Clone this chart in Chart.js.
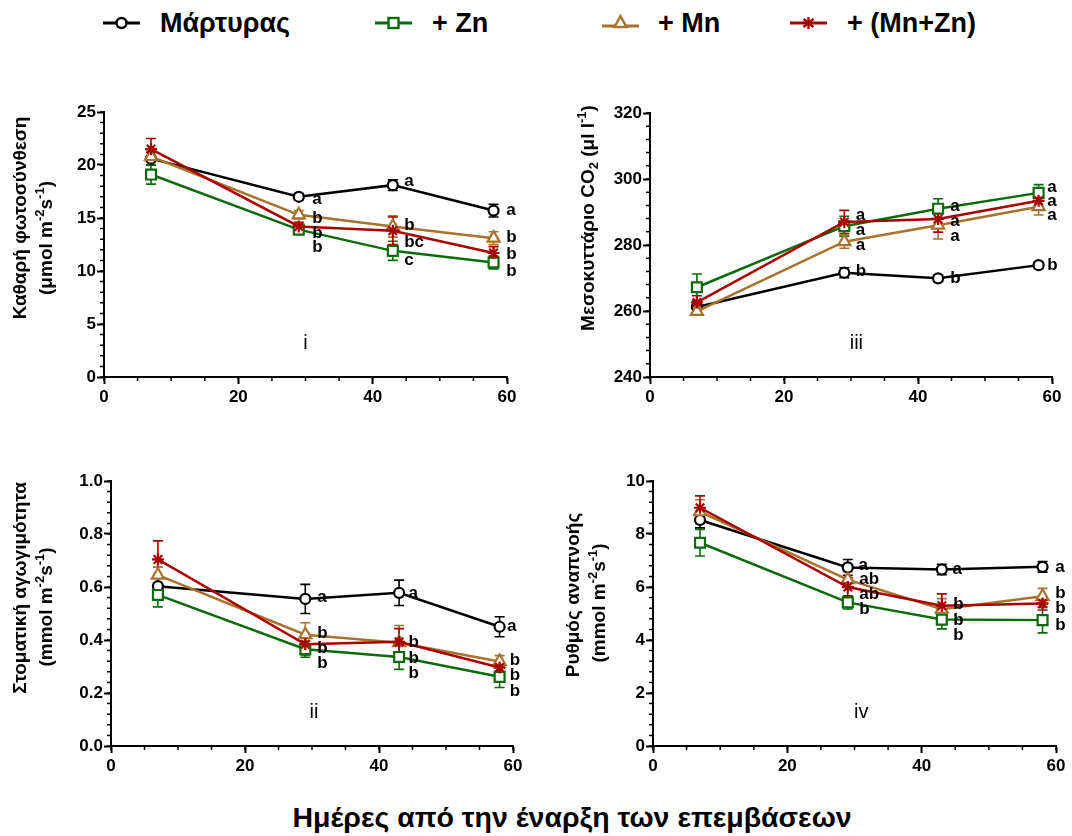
<!DOCTYPE html>
<html>
<head>
<meta charset="utf-8">
<script src="https://cdn.jsdelivr.net/npm/chart.js@4.4.0/dist/chart.umd.min.js"></script>
<style>
  body { margin: 0; background: #fff; width: 1072px; height: 836px; position: relative; overflow: hidden;
         font-family: "Liberation Sans", Arial, sans-serif; }
  canvas { position: absolute; }
  .leg { position: absolute; top: 8px; height: 30px; line-height: 30px; font-weight: bold; font-size: 27px; color: #000; white-space: nowrap; }
  .sym { position: absolute; top: 12px; }
  .xtitle { position: absolute; left: 72px; width: 1000px; top: 801px; text-align: center; font-weight: bold; font-size: 28.5px; line-height: 32px; }
</style>
</head>
<body>
<canvas id="c1" width="560" height="330" style="left:0;top:90px"></canvas>
<canvas id="c3" width="512" height="330" style="left:560px;top:90px"></canvas>
<canvas id="c2" width="560" height="330" style="left:0;top:460px"></canvas>
<canvas id="c4" width="512" height="330" style="left:560px;top:460px"></canvas>

<svg class="sym" style="left:103px" width="37" height="22"><line x1="0" y1="11" x2="37" y2="11" stroke="#000" stroke-width="2.8"/><circle cx="18.5" cy="11" r="5" fill="#fff" stroke="#000" stroke-width="2.4"/></svg>
<div class="leg" style="left:160px">Μάρτυρας</div>
<svg class="sym" style="left:375px" width="37" height="22"><line x1="0" y1="11" x2="37" y2="11" stroke="#0b6b0b" stroke-width="2.8"/><rect x="13.5" y="6" width="10" height="10" fill="#fff" stroke="#0b6b0b" stroke-width="2.4"/></svg>
<div class="leg" style="left:432px">+ Zn</div>
<svg class="sym" style="left:602px" width="37" height="22"><line x1="0" y1="14" x2="37" y2="14" stroke="#a8722c" stroke-width="2.8"/><polygon points="18.5,4 24.5,15 12.5,15" fill="#fff" stroke="#a8722c" stroke-width="2.4"/></svg>
<div class="leg" style="left:658px">+ Mn</div>
<svg class="sym" style="left:790px" width="37" height="22"><line x1="0" y1="11" x2="37" y2="11" stroke="#a80000" stroke-width="2.8"/><g stroke="#a80000" stroke-width="2.4"><line x1="18.5" y1="5" x2="18.5" y2="17"/><line x1="13.5" y1="7" x2="23.5" y2="15"/><line x1="23.5" y1="7" x2="13.5" y2="15"/></g></svg>
<div class="leg" style="left:847px">+ (Mn+Zn)</div>

<div class="xtitle">Ημέρες από την έναρξη των επεμβάσεων</div>

<script>
// ---- data ----
const days = [7, 29, 43, 58];
const seriesNames = ['Μάρτυρας', '+ Zn', '+ Mn', '+ (Mn+Zn)'];

// i - net photosynthesis
const photoCtrl = [20.6, 17.0, 18.1, 15.7];
const photoCtrlErr = [0.6, 0.3, 0.5, 0.6];
const photoZn = [19.1, 13.9, 11.9, 10.8];
const photoZnErr = [0.9, 0.3, 0.9, 0.6];
const photoMn = [20.8, 15.3, 14.2, 13.1];
const photoMnErr = [0.5, 0.4, 1.0, 0.6];
const photoMnZn = [21.5, 14.2, 13.8, 11.7];
const photoMnZnErr = [1.0, 0.4, 1.3, 0.6];
const photoLetters = [
  [31, 16.8, 'a'], [31, 15.0, 'b'], [31, 13.6, 'b'], [31, 12.2, 'b'],
  [44.7, 18.5, 'a'], [44.7, 14.3, 'b'], [44.7, 12.7, 'bc'], [44.7, 11.0, 'c'],
  [59.9, 15.7, 'a'], [59.9, 13.2, 'b'], [59.9, 11.6, 'b'], [59.9, 10.0, 'b']
];

// iii - intercellular CO2
const co2Ctrl = [261.2, 271.6, 269.9, 273.9];
const co2CtrlErr = [1.5, 1.5, 1.0, 1.0];
const co2Zn = [267.2, 285.7, 291.0, 295.8];
const co2ZnErr = [4.0, 3.0, 3.0, 2.5];
const co2Mn = [259.9, 281.0, 286.0, 291.6];
const co2MnErr = [1.0, 2.0, 4.2, 2.5];
const co2MnZn = [262.6, 287.0, 287.9, 293.4];
const co2MnZnErr = [2.0, 3.5, 4.0, 1.5];
const co2Letters = [
  [30.7, 288.9, 'a'], [30.7, 284.5, 'a'], [30.7, 279.8, 'a'], [30.7, 271.9, 'b'],
  [44.8, 291.8, 'a'], [44.8, 287.1, 'a'], [44.8, 282.7, 'a'], [44.8, 269.9, 'b'],
  [59.3, 297.6, 'a'], [59.3, 293.3, 'a'], [59.3, 289.1, 'a'], [59.3, 273.8, 'b']
];

// ii - stomatal conductance
const gsCtrl = [0.603, 0.555, 0.578, 0.450];
const gsCtrlErr = [0.04, 0.055, 0.048, 0.038];
const gsZn = [0.570, 0.365, 0.336, 0.261];
const gsZnErr = [0.045, 0.03, 0.047, 0.04];
const gsMn = [0.645, 0.420, 0.390, 0.319];
const gsMnErr = [0.03, 0.045, 0.065, 0.022];
const gsMnZn = [0.704, 0.384, 0.393, 0.296];
const gsMnZnErr = [0.07, 0.04, 0.05, 0.02];
const gsLetters = [
  [30.8, 0.56, 'a'], [30.8, 0.424, 'b'], [30.8, 0.368, 'b'], [30.8, 0.311, 'b'],
  [44.4, 0.576, 'a'], [44.4, 0.393, 'b'], [44.4, 0.332, 'b'], [44.4, 0.276, 'b'],
  [59.1, 0.453, 'a'], [59.5, 0.324, 'b'], [59.5, 0.267, 'b'], [59.5, 0.208, 'b']
];

// iv - respiration rate
const respCtrl = [8.53, 6.74, 6.66, 6.76];
const respCtrlErr = [0.3, 0.3, 0.2, 0.2];
const respZn = [7.67, 5.42, 4.77, 4.75];
const respZnErr = [0.5, 0.25, 0.35, 0.48];
const respMn = [8.84, 6.28, 5.16, 5.65];
const respMnErr = [0.45, 0.3, 0.4, 0.3];
const respMnZn = [8.99, 6.00, 5.29, 5.38];
const respMnZnErr = [0.45, 0.35, 0.45, 0.25];
const respLetters = [
  [30.6, 6.83, 'a'], [30.7, 6.28, 'ab'], [30.7, 5.73, 'ab'], [30.7, 5.15, 'b'],
  [44.6, 6.66, 'a'], [44.7, 5.34, 'b'], [44.7, 4.75, 'b'], [44.7, 4.16, 'b'],
  [59.9, 6.74, 'a'], [59.9, 5.78, 'b'], [59.9, 5.19, 'b'], [59.9, 4.56, 'b']
];

// y axis titles, [text, 'sup'|'sub'] segments per line
const unitsM = [['(mmol m'], ['-2', 'sup'], ['s'], ['-1', 'sup'], [')']];
const titlePhoto = [[['Καθαρή φωτοσύνθεση']], [['(μmol m'], ['-2', 'sup'], ['s'], ['-1', 'sup'], [')']]];
const titleCo2 = [[['Μεσοκυττάριο CO'], ['2', 'sub'], [' (μl l'], ['-1', 'sup'], [')']]];
const titleGs = [[['Στοματική αγωγιμότητα']], unitsM];
const titleResp = [[['Ρυθμός αναπνοής']], unitsM];

const colors = ['#000000', '#0b6b0b', '#a8722c', '#a80000'];
const styles = ['circle', 'rect', 'triangle', 'star'];
const radii = [5, 7, 7, 6];
const drawOrder = [4, 3, 2, 1];

Chart.defaults.font.family = '"Liberation Sans", Arial, sans-serif';
Chart.defaults.color = '#000';

// ---- plugins ----
const errorBars = {
  id: 'errorBars',
  beforeDatasetsDraw(chart) {
    const ctx = chart.ctx, xs = chart.scales.x, ys = chart.scales.y;
    ctx.save();
    chart.data.datasets.forEach(ds => {
      ctx.strokeStyle = ds.borderColor;
      ctx.lineWidth = 1.6;
      ds.data.forEach((pt, j) => {
        const e = ds.errors[j];
        const x = xs.getPixelForValue(pt.x);
        const y1 = ys.getPixelForValue(pt.y + e), y2 = ys.getPixelForValue(pt.y - e);
        ctx.beginPath();
        ctx.moveTo(x, y1); ctx.lineTo(x, y2);
        ctx.moveTo(x - 5, y1); ctx.lineTo(x + 5, y1);
        ctx.moveTo(x - 5, y2); ctx.lineTo(x + 5, y2);
        ctx.stroke();
      });
    });
    ctx.restore();
  }
};

const minorTicks = {
  id: 'minorTicks',
  afterDraw(chart, args, opts) {
    const ctx = chart.ctx, xs = chart.scales.x, ys = chart.scales.y;
    ctx.save();
    ctx.strokeStyle = '#000';
    ctx.lineWidth = 1.5;
    ctx.beginPath();
    const nx = Math.round((xs.max - xs.min) / opts.x);
    for (let i = 0; i <= nx; i++) {
      const p = xs.getPixelForValue(xs.min + i * opts.x);
      ctx.moveTo(p, xs.top); ctx.lineTo(p, xs.top + 4);
    }
    const ny = Math.round((ys.max - ys.min) / opts.y);
    for (let i = 0; i <= ny; i++) {
      const p = ys.getPixelForValue(ys.min + i * opts.y);
      ctx.moveTo(ys.right, p); ctx.lineTo(ys.right - 4, p);
    }
    ctx.stroke();
    ctx.restore();
  }
};

const notes = {
  id: 'notes',
  afterDatasetsDraw(chart, args, opts) {
    const ctx = chart.ctx, xs = chart.scales.x, ys = chart.scales.y;
    ctx.save();
    ctx.fillStyle = '#000';
    ctx.textBaseline = 'middle';
    ctx.textAlign = 'left';
    ctx.font = 'bold 17px "Liberation Sans", Arial, sans-serif';
    opts.letters.forEach(([x, y, t]) => ctx.fillText(t, xs.getPixelForValue(x), ys.getPixelForValue(y)));
    ctx.textAlign = 'center';
    ctx.font = '20px "Liberation Sans", Arial, sans-serif';
    ctx.fillText(opts.tag[2], xs.getPixelForValue(opts.tag[0]), ys.getPixelForValue(opts.tag[1]));
    ctx.restore();
  }
};

const yTitle = {
  id: 'yTitle',
  afterDraw(chart, args, opts) {
    const ctx = chart.ctx;
    const size = 19;
    const fontFor = k => 'bold ' + (k ? 13 : size) + 'px "Liberation Sans", Arial, sans-serif';
    ctx.save();
    ctx.fillStyle = '#000';
    ctx.textBaseline = 'middle';
    ctx.textAlign = 'left';
    opts.lines.forEach((segs, li) => {
      let w = 0;
      segs.forEach(([t, k]) => { ctx.font = fontFor(k); w += ctx.measureText(t).width; });
      ctx.save();
      ctx.translate(opts.pos[li][0], opts.pos[li][1]);
      ctx.rotate(-Math.PI / 2);
      let x = -w / 2;
      segs.forEach(([t, k]) => {
        ctx.font = fontFor(k);
        const dy = k === 'sup' ? -7 : (k === 'sub' ? 5 : 0);
        ctx.fillText(t, x, dy);
        x += ctx.measureText(t).width;
      });
      ctx.restore();
    });
    ctx.restore();
  }
};

// ---- panels ----
function makePanel(id, box, area, series, errors, y, letters, tag, title, titlePos) {
  const datasets = series.map((vals, i) => ({
    label: seriesNames[i],
    data: days.map((d, j) => ({ x: d, y: vals[j] })),
    errors: errors[i],
    borderColor: colors[i],
    borderWidth: 2.5,
    pointStyle: styles[i],
    pointRadius: radii[i],
    pointBorderWidth: 2.2,
    pointBorderColor: colors[i],
    pointBackgroundColor: '#fff',
    tension: 0,
    fill: false,
    clip: false,
    order: drawOrder[i]
  }));
  const xAxisH = 30;
  new Chart(document.getElementById(id), {
    type: 'line',
    data: { datasets: datasets },
    options: {
      responsive: false,
      animation: false,
      events: [],
      layout: {
        padding: {
          left: 0,
          top: area.t - box.y,
          right: box.x + box.w - area.r,
          bottom: box.y + box.h - area.b - xAxisH
        }
      },
      scales: {
        x: {
          type: 'linear', min: 0, max: 60,
          border: { color: '#000', width: 2 },
          grid: { drawOnChartArea: false, tickLength: 7, tickWidth: 2, tickColor: '#000' },
          ticks: { stepSize: 20, autoSkip: false, maxRotation: 0, padding: 3, color: '#000',
                   font: { size: 17, weight: 'bold' } },
          afterFit: s => { s.height = xAxisH; }
        },
        y: {
          min: y.min, max: y.max,
          border: { color: '#000', width: 2 },
          grid: { drawOnChartArea: false, tickLength: 7, tickWidth: 2, tickColor: '#000' },
          ticks: { stepSize: y.step, autoSkip: false, padding: 1, color: '#000',
                   font: { size: 17, weight: 'bold' },
                   callback: v => y.fmt ? v.toFixed(y.fmt) : v },
          afterFit: s => { s.width = area.l - box.x; }
        }
      },
      plugins: {
        legend: { display: false },
        tooltip: { enabled: false },
        minorTicks: { x: 5, y: y.minor },
        notes: { letters: letters, tag: tag },
        yTitle: { lines: title, pos: titlePos.map(([px, py]) => [px - box.x, py - box.y]) }
      }
    },
    plugins: [errorBars, minorTicks, notes, yTitle]
  });
}

makePanel('c1', { x: 0, y: 90, w: 560, h: 330 }, { l: 104, t: 112, r: 507, b: 377 },
  [photoCtrl, photoZn, photoMn, photoMnZn], [photoCtrlErr, photoZnErr, photoMnErr, photoMnZnErr],
  { min: 0, max: 25, step: 5, minor: 1 }, photoLetters, [30, 3.15, 'i'],
  titlePhoto, [[21, 218], [47, 238]]);

makePanel('c3', { x: 560, y: 90, w: 512, h: 330 }, { l: 650, t: 113, r: 1052, b: 377 },
  [co2Ctrl, co2Zn, co2Mn, co2MnZn], [co2CtrlErr, co2ZnErr, co2MnErr, co2MnZnErr],
  { min: 240, max: 320, step: 20, minor: 4 }, co2Letters, [30.8, 250.3, 'iii'],
  titleCo2, [[589, 218]]);

makePanel('c2', { x: 0, y: 460, w: 560, h: 330 }, { l: 111, t: 481, r: 513, b: 746 },
  [gsCtrl, gsZn, gsMn, gsMnZn], [gsCtrlErr, gsZnErr, gsMnErr, gsMnZnErr],
  { min: 0, max: 1, step: 0.2, minor: 0.04, fmt: 1 }, gsLetters, [30.3, 0.128, 'ii'],
  titleGs, [[21, 588], [47, 607]]);

makePanel('c4', { x: 560, y: 460, w: 512, h: 330 }, { l: 653, t: 481, r: 1056, b: 746 },
  [respCtrl, respZn, respMn, respMnZn], [respCtrlErr, respZnErr, respMnErr, respMnZnErr],
  { min: 0, max: 10, step: 2, minor: 0.4 }, respLetters, [31, 1.26, 'iv'],
  titleResp, [[574, 595], [600, 603]]);
</script>
</body>
</html>
